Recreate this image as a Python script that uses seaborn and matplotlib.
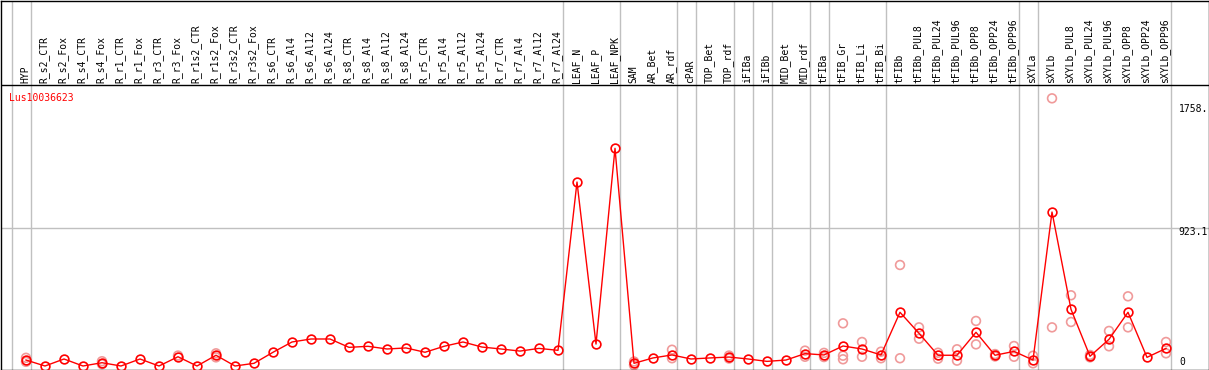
"""
Expression profile of Lus10036623 across tissues (recreated chart)
"""

import numpy as np
import pandas as pd
import seaborn as sns
import matplotlib.pyplot as plt

gene = "Lus10036623"

samples = ["HYP", "R_s2_CTR", "R_s2_Fox", "R_s4_CTR", "R_s4_Fox", "R_r1_CTR", "R_r1_Fox",
           "R_r3_CTR", "R_r3_Fox", "R_r1s2_CTR", "R_r1s2_Fox", "R_r3s2_CTR", "R_r3s2_Fox",
           "R_s6_CTR", "R_s6_Al4", "R_s6_Al12", "R_s6_Al24", "R_s8_CTR", "R_s8_Al4",
           "R_s8_Al12", "R_s8_Al24", "R_r5_CTR", "R_r5_Al4", "R_r5_Al12", "R_r5_Al24",
           "R_r7_CTR", "R_r7_Al4", "R_r7_Al12", "R_r7_Al24", "LEAF_N", "LEAF_P", "LEAF_NPK",
           "SAM", "AR_Bet", "AR_rdf", "cPAR", "TOP_Bet", "TOP_rdf", "iFIBa", "iFIBb",
           "MID_Bet", "MID_rdf", "tFIBa", "tFIB_Gr", "tFIB_Li", "tFIB_Bi", "tFIBb",
           "tFIBb_PUL8", "tFIBb_PUL24", "tFIBb_PUL96", "tFIBb_OPP8", "tFIBb_OPP24",
           "tFIBb_OPP96", "sXYLa", "sXYLb", "sXYLb_PUL8", "sXYLb_PUL24", "sXYLb_PUL96",
           "sXYLb_OPP8", "sXYLb_OPP24", "sXYLb_OPP96"]

mean_expr = [40, 0, 47, 0, 22, 0, 47, 0, 62, 0, 72, 0, 18,
             92, 161, 181, 181, 125, 132, 114, 121, 92, 132, 161, 127, 114, 100, 118, 105,
             1233, 147, 1459,
             18, 54, 74, 47, 54, 60, 47, 31, 40, 83, 74, 134, 114, 74,
             360, 219, 72, 72, 226, 72, 98, 40,
             1032, 380, 65, 179, 360, 58, 118]

# single replicates (light circles)
rep_samples = ["HYP", "HYP", "R_s4_Fox", "R_s4_Fox", "R_r3_Fox", "R_r1s2_Fox", "R_r1s2_Fox",
               "SAM", "SAM", "AR_rdf", "AR_rdf", "TOP_rdf", "TOP_rdf", "MID_rdf", "MID_rdf",
               "tFIBa", "tFIBa", "tFIB_Gr", "tFIB_Gr", "tFIB_Gr", "tFIB_Li", "tFIB_Li",
               "tFIB_Bi", "tFIB_Bi", "tFIBb", "tFIBb", "tFIBb_PUL8", "tFIBb_PUL8",
               "tFIBb_PUL24", "tFIBb_PUL24", "tFIBb_PUL96", "tFIBb_PUL96", "tFIBb_OPP8",
               "tFIBb_OPP8", "tFIBb_OPP24", "tFIBb_OPP24", "tFIBb_OPP96", "tFIBb_OPP96",
               "sXYLa", "sXYLa", "sXYLb", "sXYLb", "sXYLb_PUL8", "sXYLb_PUL8",
               "sXYLb_PUL24", "sXYLb_PUL24", "sXYLb_PUL96", "sXYLb_PUL96", "sXYLb_OPP8",
               "sXYLb_OPP8", "sXYLb_OPP96", "sXYLb_OPP96"]
rep_expr = [55, 28, 32, 12, 70, 85, 58,
            5, 30, 109, 52, 70, 50, 103, 62,
            88, 60, 286, 69, 45, 161, 62,
            96, 52, 677, 52, 259, 183,
            89, 49, 112, 36, 302, 145,
            80, 64, 134, 62, 69, 18,
            1794, 259, 474, 295, 74, 58,
            235, 132, 467, 259, 161, 85]

# last sample of each group (grey separators)
group_ends = ["HYP", "R_r7_Al24", "LEAF_NPK", "AR_rdf", "cPAR", "TOP_rdf", "iFIBa", "iFIBb",
              "MID_rdf", "tFIBa", "tFIB_Bi", "tFIBb_OPP96", "sXYLa", "sXYLb_OPP96"]

y_ticks = [0, 923.1, 1758]
y_tick_labels = ["0", "923.1", "1758."]

pos = {s: i for i, s in enumerate(samples)}
df_mean = pd.DataFrame({"pos": np.arange(len(samples)), "expr": mean_expr})
df_rep = pd.DataFrame({"pos": [pos[s] for s in rep_samples], "expr": rep_expr})

# pixel layout of the original
W, H = 1209, 370
L, R, T, B = 0.5, 1208.5, 0.5, 369.5
x0, dx = 26, 19          # pixel of first column, column spacing
y0, sy = 366, 0.1492     # pixel of zero, pixels per unit
header_px = 85

fig = plt.figure(figsize=(W / 100, H / 100), dpi=100)
ax = fig.add_axes([L / W, (H - B) / H, (R - L) / W, (B - T) / H])
ax.set_xlim((L - x0) / dx, (R - x0) / dx)
ax.set_ylim((y0 - B) / sy, (y0 - T) / sy)

mono = "DejaVu Sans Mono"
grey = "#c0c0c0"

# group separators, grid line at the middle value, header line
ax.axvline(-1 + 4.5 / dx, color=grey, lw=1, zorder=1)
for s in group_ends:
    ax.axvline(pos[s] + 4.5 / dx, color=grey, lw=1, zorder=1)
ax.axhline(923.1, color=grey, lw=1, zorder=1)
ax.axhline((y0 - header_px) / sy, color="black", lw=1, zorder=3)

sns.scatterplot(data=df_rep, x="pos", y="expr", ax=ax, marker="o", s=40,
                facecolors="none", edgecolor="#f09a9a", linewidth=1.2, zorder=2)
sns.lineplot(data=df_mean, x="pos", y="expr", ax=ax, color="red", lw=1,
             marker="o", markersize=6.3, markerfacecolor="none",
             markeredgecolor="red", markeredgewidth=1.2, zorder=4)

# column labels in the header
lab_y = 1 - (header_px - 2 - T) / (B - T)
for i, s in enumerate(samples):
    ax.text(i - 0.05, lab_y, s, rotation=90, ha="center", va="bottom",
            fontsize=7, family=mono, transform=ax.get_xaxis_transform())

ax.text((9 - x0) / dx, (y0 - 98) / sy, gene, color="red", fontsize=7, family=mono,
        ha="left", va="center")

# value labels on the right (pixel offsets from the value line)
label_x = [(1179 - x0) / dx, (1208 - x0) / dx, (1208 - x0) / dx]
label_ha = ["left", "right", "right"]
label_dy = [4, -4, -5]
for v, t, lx, ha, dy in zip(y_ticks, y_tick_labels, label_x, label_ha, label_dy):
    ax.text(lx, v + dy / sy, t, fontsize=7, family=mono, ha=ha, va="center")

ax.set_xticks([])
ax.set_yticks([])
ax.set_xlabel("")
ax.set_ylabel("")
for sp in ax.spines.values():
    sp.set_color("black")
    sp.set_linewidth(1)

fig.savefig("out.png", dpi=100)
